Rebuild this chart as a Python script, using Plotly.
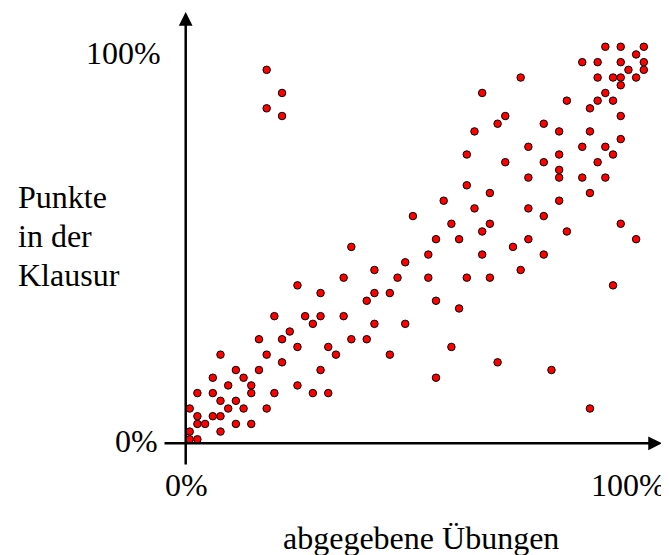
import plotly.graph_objects as go

# Data: submitted exercises (x) vs exam points (y), in score units
# 100% corresponds to 58 units on x and 50 units on y
exercises = [21, 28, 24, 20, 27, 14, 17, 24, 26, 23, 11, 15, 17, 20, 16, 24, 28, 13, 9, 12,
             21, 23, 14, 18, 4, 10, 19, 26, 12, 6, 9, 17, 3, 7, 5, 8, 14, 1, 3, 8,
             11, 16, 18, 4, 6, 0, 5, 7, 10, 1, 3, 4, 1, 2, 6, 8, 0, 4, 0, 1,
             10, 12, 10, 12, 54, 56, 59, 58, 51, 53, 56, 59, 57, 59, 43, 53, 55, 56, 58, 56,
             54, 38, 49, 53, 55, 52, 41, 56, 40, 46, 37, 48, 52, 44, 51, 54, 56, 36, 48, 55,
             41, 46, 53, 48, 44, 48, 51, 54, 36, 39, 52, 33, 48, 37, 44, 29, 46, 34, 39, 56,
             38, 49, 32, 35, 44, 58, 42, 31, 38, 46, 43, 31, 36, 39, 55, 32, 35, 34, 40, 47,
             32, 52]
exam = [25, 23, 22, 21, 21, 20, 19, 19, 19, 18, 16, 16, 16, 16, 15, 15, 15, 14, 13, 13,
        13, 13, 12, 12, 11, 11, 11, 11, 10, 9, 9, 9, 8, 8, 7, 7, 7, 6, 6, 6,
        6, 6, 6, 5, 5, 4, 4, 4, 4, 3, 3, 3, 2, 2, 2, 2, 1, 1, 0, 0,
        48, 45, 43, 42, 51, 51, 51, 50, 49, 49, 49, 49, 48, 48, 47, 47, 47, 47, 47, 46,
        45, 45, 44, 44, 44, 43, 42, 42, 41, 41, 40, 40, 40, 38, 38, 38, 39, 37, 37, 37,
        36, 36, 36, 35, 34, 34, 34, 34, 33, 32, 32, 31, 31, 30, 30, 29, 29, 28, 28, 28,
        27, 27, 26, 26, 26, 26, 25, 24, 24, 24, 22, 21, 21, 21, 20, 18, 17, 12, 10, 9,
        8, 4]

X_FULL = 58   # units equal to 100% on x
Y_FULL = 50   # units equal to 100% on y
tick_labels = ["0%", "100%"]
x_title = "abgegebene Übungen"
y_title_lines = ["Punkte", "in der", "Klausur"]

# Layout geometry (screen pixels); the page body adds an 8 px offset
OFF = 8
W, H = 669, 555
X0PX, Y0PX, STEP = 189.7, 439.3, 7.697


def ux(px):
    return (px - X0PX) / STEP


def uy(py):
    return (Y0PX - py) / STEP


FONT = "Liberation Serif, Times New Roman, serif"
FS = 32

fig = go.Figure()
fig.add_trace(go.Scatter(
    x=exercises, y=exam, mode="markers",
    marker=dict(color="#ff0000", size=7.5, line=dict(color="#000000", width=1)),
    hoverinfo="x+y", showlegend=False,
))

tfont = dict(family=FONT, size=FS, color="black")
ann = []
# axes with arrows
ann.append(dict(x=ux(662), y=uy(443.3), ax=ux(163), ay=uy(443.3), xref="x", yref="y",
                axref="x", ayref="y", showarrow=True, arrowhead=2, arrowsize=1.1,
                arrowwidth=2.5, arrowcolor="black", text=""))
ann.append(dict(x=ux(185.7), y=uy(12), ax=ux(185.7), ay=uy(466), xref="x", yref="y",
                axref="x", ayref="y", showarrow=True, arrowhead=2, arrowsize=1.1,
                arrowwidth=2.5, arrowcolor="black", text=""))
# tick labels
ann.append(dict(x=ux(160), y=uy(440.5), text=tick_labels[0], xanchor="right", yanchor="middle",
                showarrow=False, font=tfont))
ann.append(dict(x=ux(163), y=uy(53), text=tick_labels[1], xanchor="right", yanchor="middle",
                showarrow=False, font=tfont))
ann.append(dict(x=ux(186), y=uy(485), text=tick_labels[0], xanchor="center", yanchor="middle",
                showarrow=False, font=tfont))
ann.append(dict(x=ux(668), y=uy(485), text=tick_labels[1], xanchor="right", yanchor="middle",
                showarrow=False, font=tfont))
# axis titles
ann.append(dict(x=ux(421), y=uy(538), text=x_title, xanchor="center", yanchor="middle",
                showarrow=False, font=tfont))
for i, line in enumerate(y_title_lines):
    ann.append(dict(x=ux(16), y=uy(197 + 38.8 * i), text=line, xanchor="left", yanchor="middle",
                    align="left", showarrow=False, font=tfont))

fig.update_layout(
    width=W - OFF, height=H - OFF,
    margin=dict(l=0, r=0, t=0, b=0),
    paper_bgcolor="white", plot_bgcolor="white",
    xaxis=dict(range=[ux(OFF), ux(W)], visible=False, fixedrange=True),
    yaxis=dict(range=[uy(H), uy(OFF)], visible=False, fixedrange=True),
    annotations=ann,
)

fig.write_html("out.html")
